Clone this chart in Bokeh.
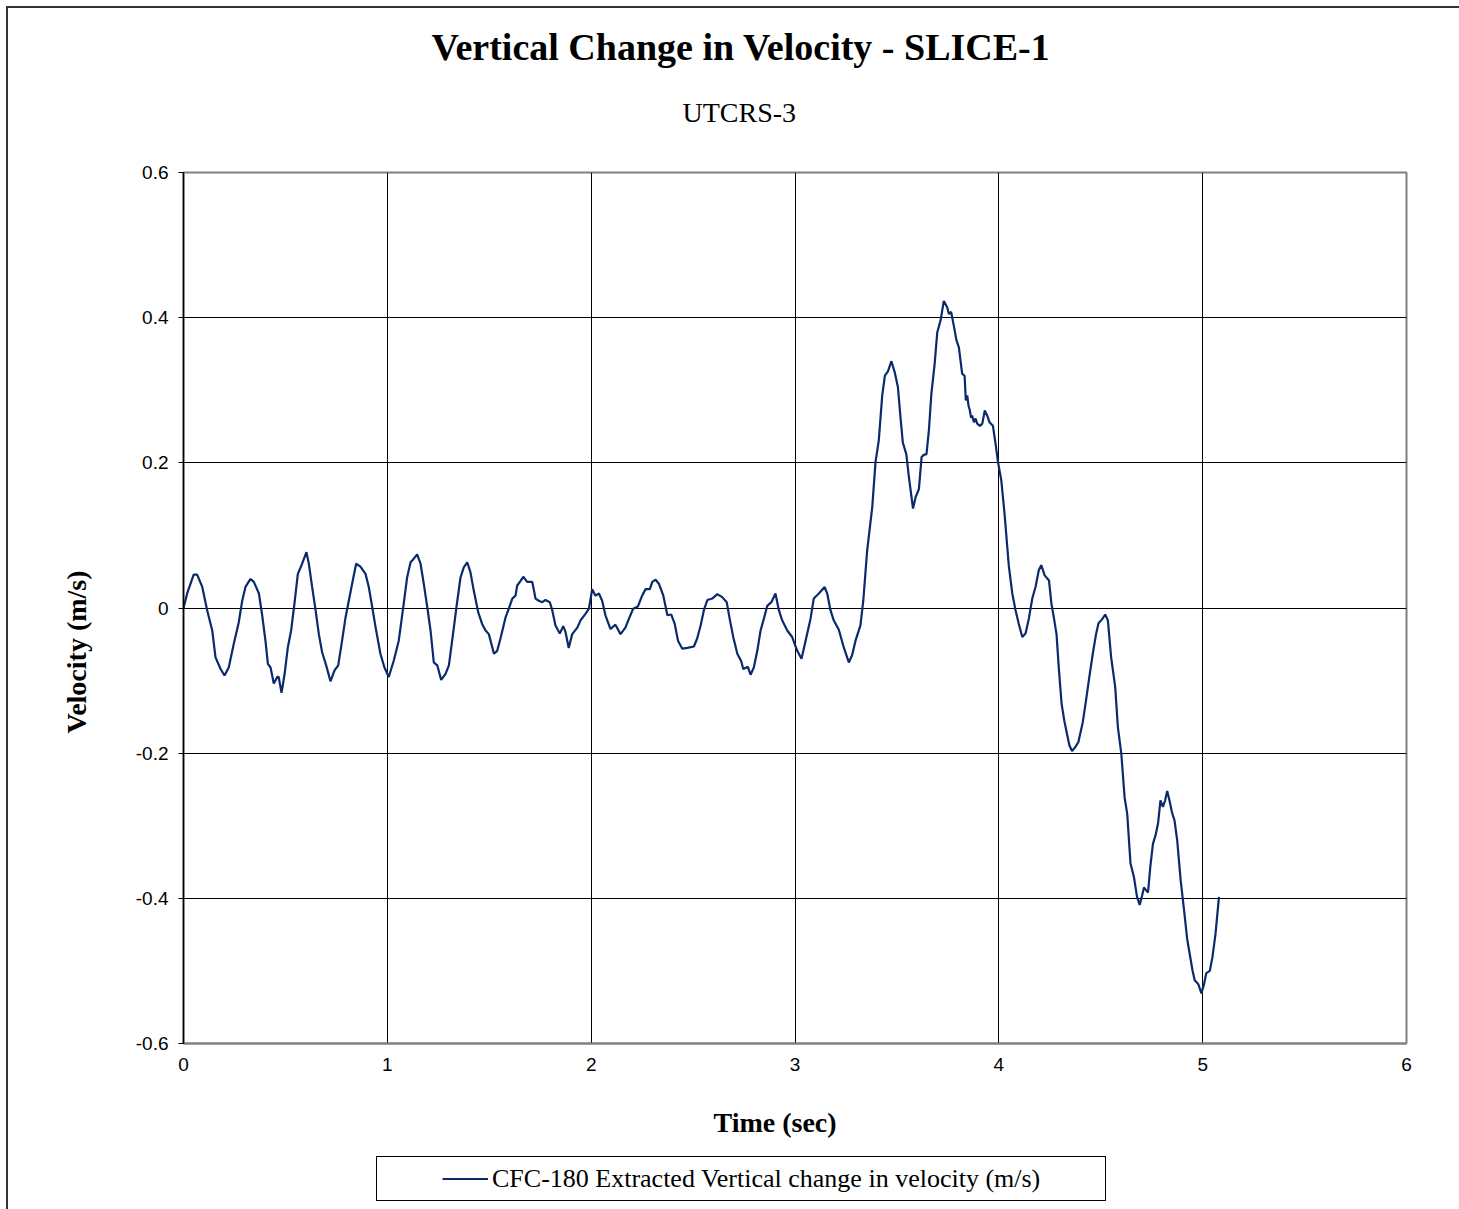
from bokeh.plotting import figure
from bokeh.layouts import column
from bokeh.models import Range1d, FixedTicker, Title, Legend, LegendItem
from bokeh.embed import file_html
from bokeh.resources import INLINE

# ---------------- data ----------------
time_sec = [
    0.000, 0.018, 0.050, 0.067, 0.092, 0.116, 0.141, 0.157, 0.182, 0.201, 0.222, 0.247, 0.271, 0.288,
    0.304, 0.329, 0.345, 0.370, 0.386, 0.402, 0.414, 0.427, 0.443, 0.460, 0.467, 0.481, 0.496, 0.512,
    0.528, 0.546, 0.561, 0.582, 0.603, 0.615, 0.631, 0.648, 0.664, 0.680, 0.700, 0.721, 0.741, 0.759,
    0.778, 0.795, 0.811, 0.827, 0.847, 0.868, 0.893, 0.909, 0.926, 0.942, 0.966, 0.986, 1.007, 1.032,
    1.056, 1.078, 1.097, 1.114, 1.130, 1.146, 1.163, 1.179, 1.196, 1.212, 1.228, 1.245, 1.264, 1.285,
    1.302, 1.318, 1.339, 1.359, 1.375, 1.392, 1.408, 1.424, 1.446, 1.465, 1.482, 1.498, 1.523, 1.539,
    1.555, 1.580, 1.596, 1.613, 1.629, 1.637, 1.653, 1.667, 1.686, 1.711, 1.727, 1.743, 1.760, 1.776,
    1.797, 1.809, 1.825, 1.846, 1.863, 1.874, 1.890, 1.907, 1.932, 1.948, 1.972, 1.989, 2.005, 2.021,
    2.038, 2.054, 2.070, 2.095, 2.119, 2.144, 2.168, 2.185, 2.206, 2.229, 2.250, 2.267, 2.288, 2.300,
    2.316, 2.333, 2.354, 2.374, 2.393, 2.410, 2.426, 2.447, 2.472, 2.504, 2.520, 2.537, 2.553, 2.570,
    2.594, 2.619, 2.643, 2.665, 2.681, 2.697, 2.717, 2.736, 2.746, 2.769, 2.782, 2.798, 2.815, 2.831,
    2.847, 2.864, 2.884, 2.904, 2.921, 2.937, 2.962, 2.986, 3.011, 3.032, 3.052, 3.076, 3.092, 3.117,
    3.145, 3.158, 3.174, 3.190, 3.215, 3.239, 3.264, 3.280, 3.297, 3.321, 3.335, 3.354, 3.379, 3.395,
    3.411, 3.428, 3.441, 3.456, 3.473, 3.489, 3.505, 3.519, 3.529, 3.546, 3.559, 3.579, 3.592, 3.608,
    3.621, 3.632, 3.645, 3.657, 3.669, 3.685, 3.698, 3.714, 3.730, 3.747, 3.755, 3.766, 3.779, 3.792,
    3.804, 3.820, 3.832, 3.838, 3.845, 3.851, 3.858, 3.864, 3.869, 3.878, 3.886, 3.894, 3.907, 3.919,
    3.931, 3.943, 3.954, 3.971, 3.984, 3.996, 4.012, 4.028, 4.049, 4.066, 4.082, 4.098, 4.115, 4.131,
    4.147, 4.164, 4.180, 4.196, 4.208, 4.225, 4.246, 4.258, 4.271, 4.283, 4.295, 4.308, 4.321, 4.334,
    4.346, 4.359, 4.374, 4.390, 4.412, 4.428, 4.444, 4.461, 4.477, 4.489, 4.505, 4.522, 4.535, 4.551,
    4.571, 4.584, 4.601, 4.617, 4.630, 4.646, 4.663, 4.678, 4.691, 4.703, 4.712, 4.723, 4.732, 4.743,
    4.756, 4.769, 4.781, 4.793, 4.805, 4.816, 4.826, 4.837, 4.849, 4.862, 4.875, 4.892, 4.909, 4.924,
    4.936, 4.950, 4.961, 4.978, 4.994, 5.007, 5.018, 5.035, 5.048, 5.063, 5.080,
]
velocity = [
    0.000, 0.020, 0.046, 0.046, 0.029, -0.003, -0.031, -0.068, -0.084, -0.093, -0.082, -0.049, -0.020, 0.010,
    0.029, 0.040, 0.036, 0.020, -0.010, -0.045, -0.077, -0.082, -0.104, -0.095, -0.095, -0.117, -0.091, -0.054,
    -0.031, 0.010, 0.047, 0.061, 0.077, 0.061, 0.029, -0.003, -0.036, -0.061, -0.079, -0.101, -0.086, -0.079,
    -0.045, -0.013, 0.010, 0.033, 0.061, 0.057, 0.047, 0.029, 0.001, -0.026, -0.063, -0.082, -0.095, -0.072,
    -0.045, 0.001, 0.042, 0.063, 0.068, 0.074, 0.061, 0.033, 0.001, -0.031, -0.075, -0.079, -0.099, -0.091,
    -0.079, -0.045, 0.001, 0.042, 0.056, 0.063, 0.049, 0.024, -0.006, -0.022, -0.031, -0.036, -0.063, -0.059,
    -0.042, -0.013, -0.001, 0.013, 0.017, 0.031, 0.037, 0.043, 0.036, 0.036, 0.013, 0.010, 0.008, 0.011,
    0.008, -0.003, -0.024, -0.035, -0.025, -0.033, -0.055, -0.036, -0.027, -0.017, -0.008, -0.001, 0.026, 0.017,
    0.020, 0.010, -0.010, -0.029, -0.023, -0.036, -0.027, -0.015, -0.001, 0.002, 0.017, 0.026, 0.026, 0.036,
    0.039, 0.033, 0.017, -0.010, -0.009, -0.022, -0.045, -0.056, -0.055, -0.053, -0.042, -0.024, -0.003, 0.011,
    0.013, 0.019, 0.015, 0.008, -0.017, -0.040, -0.063, -0.073, -0.084, -0.081, -0.092, -0.082, -0.059, -0.031,
    -0.015, 0.003, 0.008, 0.020, -0.003, -0.017, -0.031, -0.040, -0.059, -0.070, -0.045, -0.015, 0.013, 0.020,
    0.029, 0.020, -0.003, -0.017, -0.030, -0.054, -0.075, -0.065, -0.045, -0.024, 0.010, 0.079, 0.139, 0.201,
    0.231, 0.293, 0.320, 0.326, 0.340, 0.325, 0.304, 0.258, 0.228, 0.212, 0.180, 0.137, 0.153, 0.164,
    0.208, 0.211, 0.212, 0.245, 0.295, 0.336, 0.380, 0.396, 0.423, 0.414, 0.405, 0.408, 0.389, 0.369,
    0.359, 0.323, 0.320, 0.286, 0.293, 0.279, 0.272, 0.262, 0.265, 0.256, 0.261, 0.254, 0.251, 0.254,
    0.272, 0.265, 0.256, 0.251, 0.226, 0.201, 0.176, 0.130, 0.058, 0.020, -0.003, -0.022, -0.040, -0.035,
    -0.015, 0.013, 0.029, 0.052, 0.059, 0.045, 0.038, 0.006, -0.015, -0.036, -0.086, -0.132, -0.155, -0.173,
    -0.189, -0.197, -0.192, -0.185, -0.157, -0.127, -0.095, -0.063, -0.036, -0.021, -0.016, -0.009, -0.017, -0.068,
    -0.109, -0.164, -0.201, -0.261, -0.284, -0.352, -0.371, -0.398, -0.409, -0.396, -0.385, -0.389, -0.392, -0.357,
    -0.325, -0.313, -0.297, -0.265, -0.274, -0.265, -0.252, -0.265, -0.281, -0.293, -0.320, -0.375, -0.417, -0.456,
    -0.476, -0.499, -0.513, -0.518, -0.531, -0.518, -0.503, -0.500, -0.481, -0.449, -0.398,
]
x_ticks = [0, 1, 2, 3, 4, 5, 6]
y_ticks = [-0.6, -0.4, -0.2, 0, 0.2, 0.4, 0.6]
y_tick_labels = ["-0.6", "-0.4", "-0.2", "0", "0.2", "0.4", "0.6"]

title_text = "Vertical Change in Velocity - SLICE-1"
subtitle_text = "UTCRS-3"
x_label = "Time (sec)"
y_label = "Velocity (m/s)"
series_name = "CFC-180 Extracted Vertical change in velocity (m/s)"

SERIF = "Liberation Serif"
SANS = "Liberation Sans"
LINE_COLOR = "#0B2A6B"
LINE_WIDTH = 2.2

# ---------------- main chart ----------------
p = figure(width=1451, height=1075,
           x_range=Range1d(0, 6), y_range=Range1d(-0.6, 0.6),
           output_backend="svg", toolbar_location=None, title=None,
           min_border_left=175, min_border_right=53,
           min_border_top=164, min_border_bottom=40)
p.background_fill_color = "white"
p.border_fill_color = "white"
p.outline_line_color = "#808080"
p.outline_line_width = 2

# titles (subtitle nearest the frame, main title above it)
sub = Title(text=subtitle_text, align="left", offset=499, standoff=90,
            text_font=SERIF, text_font_size="28px", text_font_style="normal", text_color="black")
main = Title(text=title_text, align="left", offset=248, standoff=-37,
             text_font=SERIF, text_font_size="38px", text_font_style="bold", text_color="black")
p.add_layout(sub, "above")
p.add_layout(main, "above")

# axes
xt = FixedTicker(ticks=x_ticks)
yt = FixedTicker(ticks=y_ticks)
p.xaxis.ticker = xt
p.yaxis.ticker = yt
p.xgrid.ticker = xt
p.ygrid.ticker = yt
p.yaxis.major_label_overrides = dict(zip(y_ticks, y_tick_labels))

for ax in (p.xaxis[0], p.yaxis[0]):
    ax.major_label_text_font = SANS
    ax.major_label_text_font_size = "19px"
    ax.major_label_text_color = "black"
    ax.minor_tick_line_color = None
    ax.major_tick_in = 0

p.yaxis.major_tick_out = 5
p.yaxis.major_tick_line_color = "black"
p.yaxis.axis_line_color = "black"
p.yaxis.axis_line_width = 1.5
p.yaxis.major_label_standoff = 10

p.xaxis.major_tick_out = 0
p.xaxis.major_tick_line_color = None
p.xaxis.axis_line_color = "#808080"
p.xaxis.axis_line_width = 2
p.xaxis.major_label_standoff = 14

yl = Title(text=y_label, align="left", offset=310, standoff=81,
           text_font=SERIF, text_font_size="28px", text_font_style="bold", text_color="black")
p.add_layout(yl, "left")

for g in (p.xgrid[0], p.ygrid[0]):
    g.grid_line_color = "black"
    g.grid_line_width = 1

r = p.line(time_sec, velocity, line_color=LINE_COLOR, line_width=LINE_WIDTH)

# ---------------- x-axis title + legend strip ----------------
# its y range is far away from the data, so the proxy lines only feed the legend
q = figure(width=1451, height=126, x_range=Range1d(0, 6), y_range=Range1d(10, 11),
           output_backend="svg", toolbar_location=None, title=None,
           x_axis_location=None, y_axis_location=None,
           min_border_left=175, min_border_right=53, min_border_top=67, min_border_bottom=0)
q.grid.visible = False
q.outline_line_color = None
q.background_fill_color = "white"
q.border_fill_color = "white"

xl = Title(text=x_label, align="left", offset=530, standoff=25,
           text_font=SERIF, text_font_size="28px", text_font_style="bold", text_color="black")
q.add_layout(xl, "above")

proxy = q.line(time_sec, velocity, line_color=LINE_COLOR, line_width=LINE_WIDTH)
spacer = q.line(time_sec, velocity, line_alpha=0)

leg = Legend(items=[LegendItem(label=" ", renderers=[spacer]),
                    LegendItem(label=series_name, renderers=[proxy]),
                    LegendItem(label=" ", renderers=[spacer])],
             orientation="horizontal", location=(193, 8),
             padding=6, margin=0, spacing=0,
             border_line_color="black", border_line_width=1, border_line_alpha=1,
             background_fill_color="white", background_fill_alpha=1,
             glyph_width=46, glyph_height=31, label_height=31, label_width=9, label_standoff=4,
             label_text_font=SERIF, label_text_font_size="26px", label_text_color="black")
q.add_layout(leg, "center")

layout = column(p, q, spacing=0)
layout.styles = {"margin-left": "6px", "margin-top": "6px",
                 "border-top": "2px solid #333333", "border-left": "2px solid #333333"}

open("out.html", "w").write(file_html(layout, INLINE))
